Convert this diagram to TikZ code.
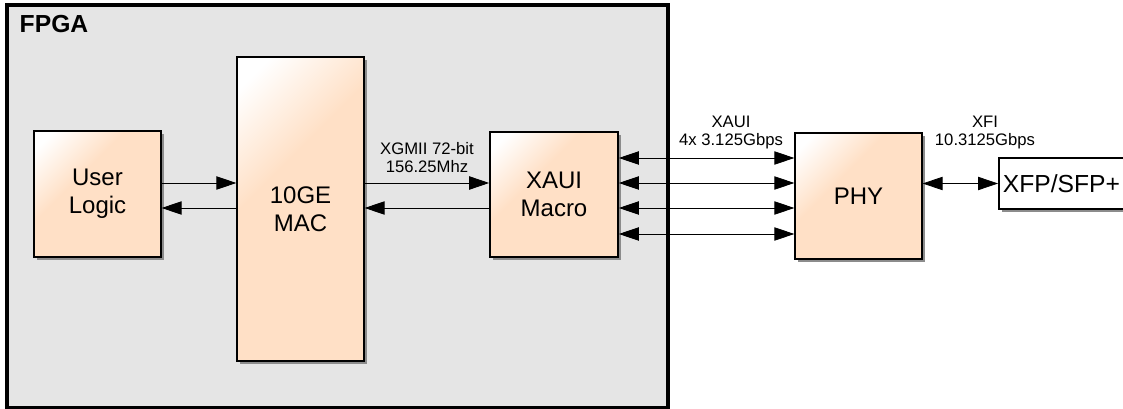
\documentclass[tikz,border=0pt]{standalone}
\usepackage{fontspec}
\setmainfont{Liberation Sans}
\usetikzlibrary{arrows.meta,positioning,shadows}
\definecolor{peach}{RGB}{255,224,198}
\definecolor{fpgagray}{RGB}{229,229,229}
\pgfdeclareverticalshading{boxfade}{100bp}{color(0bp)=(peach); color(60bp)=(peach); color(80bp)=(white); color(100bp)=(white)}

\begin{document}
\begin{tikzpicture}[x=0.75pt, y=-0.75pt,
      base/.style={draw, line width=1.2pt, align=center, inner sep=0pt,
        font=\fontsize{18}{21}\selectfont,
        drop shadow={shadow xshift=2.4pt, shadow yshift=-2.4pt, fill=black!45, opacity=1}},
      box/.style={base, shade, shading=boxfade, shading angle=45},
      port/.style={base, fill=white},
      lbl/.style={align=center, inner sep=0pt, font=\fontsize{12.5}{14}\selectfont},
      ar/.style={-{Triangle[length=15pt,width=10pt]}, line width=0.7pt},
      dar/.style={{Triangle[length=15pt,width=10pt]}-{Triangle[length=15pt,width=10pt]}, line width=0.6pt}]
    \useasboundingbox (0,0) rectangle (1123,409);
    \node[draw, line width=3.2pt, fill=fpgagray, minimum width=496pt, minimum height=302pt] (fpga) at (337.5,206.5) {};
    \node[font=\fontsize{18.5}{20}\selectfont\bfseries, inner sep=0pt] (fpgalbl) at (54,24) {FPGA};
    \node[box, minimum width=95pt, minimum height=94.5pt] (ul) at (97.5,194) {User\\Logic};
    \node[box, minimum width=95pt, minimum height=228pt] (mac) at (300.5,209) {10GE\\MAC};
    \node[box, minimum width=96pt, minimum height=94pt] (xaui) at (554,194.5) {XAUI\\Macro};
    \node[box, minimum width=95pt, minimum height=94.5pt] (phy) at (858.5,196) {PHY};
    \node[port, anchor=west, font=\fontsize{18.5}{21}\selectfont, minimum width=110pt, minimum height=38pt, text width=104pt, align=left, inner xsep=2pt] (xfp) at (998,183.5) {XFP/SFP+};
    \node[lbl] (xgmii) at (427,157.5) {XGMII 72-bit\\156.25Mhz};
    \node[lbl] (xauilbl) at (731,132.5) {XAUI\\4x 3.125Gbps};
    \node[lbl] (xfilbl) at (985,132.5) {XFI\\10.3125Gbps};
    \draw[ar] ([yshift=8.25pt]ul.east) -- ([yshift=8.25pt]ul.east -| mac.west);
    \draw[ar] ([yshift=-10.5pt]ul.east -| mac.west) -- ([yshift=-10.5pt]ul.east);
    \draw[ar] ([yshift=8.625pt]xaui.west -| mac.east) -- ([yshift=8.625pt]xaui.west);
    \draw[ar] ([yshift=-10.125pt]xaui.west) -- ([yshift=-10.125pt]xaui.west -| mac.east);
    \foreach \dy in {27.375,8.625,-10.125,-29.625}
      \draw[dar] ([yshift=\dy pt]xaui.east) -- ([yshift=\dy pt]xaui.east -| phy.west);
    \draw[dar] (xfp.west -| phy.east) -- (xfp.west);
  \end{tikzpicture}
\end{document}
